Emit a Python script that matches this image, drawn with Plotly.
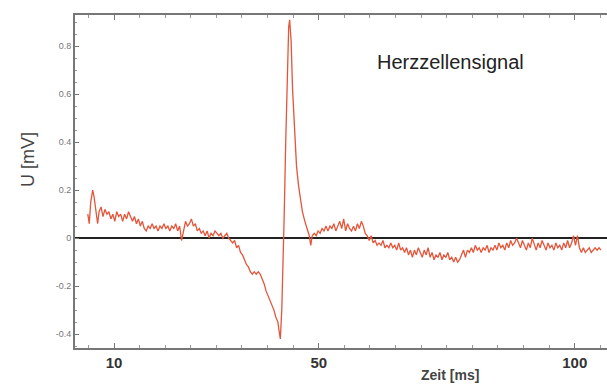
import plotly.graph_objects as go

# Time (ms) and voltage (mV) samples
time_ms = [
    4.88, 5.17, 5.45, 5.84, 6.12, 6.41, 6.80, 7.08, 7.47, 7.85, 8.24, 8.62, 9.00, 9.39, 9.77, 10.15,
    10.54, 10.92, 11.31, 11.69, 12.07, 12.46, 12.84, 13.22, 13.61, 13.99, 14.38, 14.76, 15.14, 15.53,
    15.91, 16.29, 16.68, 17.06, 17.45, 17.83, 18.21, 18.60, 18.98, 19.36, 19.75, 20.13, 20.52, 20.90,
    21.28, 21.67, 22.05, 22.43, 22.82, 23.20, 23.59, 23.97, 24.35, 24.74, 25.12, 25.50, 25.89, 26.27,
    26.66, 27.04, 27.42, 27.81, 28.19, 28.57, 28.96, 29.34, 29.73, 30.11, 30.49, 30.88, 31.26, 31.64,
    32.03, 32.41, 32.80, 33.18, 33.56, 33.95, 34.33, 34.71, 35.10, 35.48, 35.87, 36.25, 36.63, 37.02,
    37.40, 37.78, 38.17, 38.55, 38.94, 39.32, 39.70, 40.09, 40.47, 40.85, 41.24, 41.62, 42.01, 42.20,
    42.49, 42.77, 42.97, 43.25, 43.54, 43.83, 44.12, 44.31, 44.60, 44.88, 45.27, 45.65, 46.04, 46.42,
    46.80, 47.28, 47.76, 48.15, 48.43, 48.72, 49.11, 49.49, 49.87, 50.26, 50.64, 51.02, 51.41, 51.79,
    52.18, 52.56, 52.94, 53.33, 53.71, 54.09, 54.48, 54.86, 55.25, 55.63, 56.01, 56.40, 56.78, 57.16,
    57.55, 57.93, 58.32, 58.70, 59.08, 59.47, 59.85, 60.23, 60.62, 61.00, 61.39, 61.77, 62.15, 62.54,
    62.92, 63.30, 63.69, 64.07, 64.46, 64.84, 65.22, 65.61, 65.99, 66.37, 66.76, 67.14, 67.53, 67.91,
    68.29, 68.68, 69.06, 69.44, 69.83, 70.21, 70.60, 70.98, 71.36, 71.75, 72.13, 72.51, 72.90, 73.28,
    73.67, 74.05, 74.43, 74.82, 75.20, 75.58, 75.97, 76.35, 76.74, 77.12, 77.50, 77.89, 78.27, 78.65,
    79.04, 79.42, 79.81, 80.19, 80.57, 80.96, 81.34, 81.72, 82.11, 82.49, 82.88, 83.26, 83.64, 84.03,
    84.41, 84.79, 85.18, 85.56, 85.95, 86.33, 86.71, 87.10, 87.48, 87.86, 88.25, 88.63, 89.02, 89.40,
    89.78, 90.17, 90.55, 90.93, 91.32, 91.70, 92.09, 92.47, 92.85, 93.24, 93.62, 94.00, 94.39, 94.77,
    95.16, 95.54, 95.92, 96.31, 96.69, 97.07, 97.46, 97.84, 98.23, 98.61, 98.99, 99.38,
    99.76, 100.14, 100.53, 100.91, 101.30, 101.68, 102.06, 102.45, 102.83, 103.22, 103.60, 103.98,
    104.37, 104.75, 105.13,
]
voltage_mv = [
    0.10, 0.06, 0.15, 0.20, 0.17, 0.12, 0.06, 0.11, 0.13, 0.09, 0.12, 0.10, 0.11, 0.08, 0.10, 0.07,
    0.11, 0.09, 0.10, 0.07, 0.10, 0.08, 0.11, 0.09, 0.07, 0.09, 0.06, 0.08, 0.05, 0.07,
    0.04, 0.03, 0.05, 0.04, 0.06, 0.04, 0.05, 0.03, 0.05, 0.04, 0.06, 0.04, 0.05, 0.03,
    0.05, 0.04, 0.06, 0.03, 0.05, -0.01, 0.04, 0.07, 0.05, 0.06, 0.08, 0.05, 0.06, 0.03,
    0.04, 0.02, 0.03, 0.01, 0.03, 0.00, 0.02, 0.01, 0.03, 0.02, 0.01, 0.02, 0.00, 0.01,
    0.02, 0.00, -0.01, -0.02, -0.01, -0.04, -0.03, -0.06, -0.07, -0.09, -0.11, -0.12, -0.14, -0.15,
    -0.14, -0.15, -0.14, -0.15, -0.17, -0.19, -0.22, -0.24, -0.26, -0.28, -0.30, -0.33, -0.35, -0.38,
    -0.42, -0.30, -0.15, 0.10, 0.40, 0.65, 0.88, 0.91, 0.82, 0.62, 0.42, 0.30, 0.22, 0.16,
    0.11, 0.07, 0.03, 0.01, -0.03, 0.01, 0.02, 0.01, 0.03, 0.02, 0.04, 0.03, 0.05, 0.03,
    0.05, 0.04, 0.06, 0.03, 0.05, 0.07, 0.04, 0.08, 0.03, 0.06, 0.04, 0.03, 0.05, 0.03,
    0.06, 0.04, 0.07, 0.05, 0.02, 0.01, -0.01, 0.01, -0.02, -0.01, -0.03, -0.02, -0.03, -0.01,
    -0.04, -0.03, -0.04, -0.02, -0.04, -0.03, -0.05, -0.02, -0.05, -0.04, -0.06, -0.04, -0.07, -0.05,
    -0.08, -0.05, -0.07, -0.04, -0.06, -0.08, -0.05, -0.07, -0.04, -0.08, -0.06, -0.09, -0.07, -0.08,
    -0.06, -0.09, -0.07, -0.08, -0.06, -0.09, -0.08, -0.10, -0.08, -0.10, -0.09, -0.07, -0.05, -0.08,
    -0.05, -0.06, -0.04, -0.06, -0.03, -0.05, -0.04, -0.06, -0.04, -0.05, -0.03, -0.06, -0.04, -0.05,
    -0.03, -0.05, -0.02, -0.04, -0.03, -0.05, -0.02, -0.04, -0.01, -0.03, -0.02, 0.00, -0.02, -0.04,
    -0.01, -0.03, -0.05, -0.02, -0.04, 0.00, -0.03, -0.05, -0.02, -0.04, -0.01, -0.03, -0.05, -0.02,
    -0.04, -0.03, -0.05, -0.02, -0.04, -0.03, -0.05, -0.02, -0.04, -0.01, -0.04, -0.02,
    0.01, -0.03, 0.01, -0.04, -0.06, -0.04, -0.06, -0.05, -0.04, -0.06, -0.05, -0.04,
    -0.05, -0.04, -0.05,
]

x_tickvals = [10, 50, 100]
x_ticktext = ["10", "50", "100"]
y_tickvals = [-0.4, -0.2, 0, 0.2, 0.4, 0.6, 0.8]
y_ticktext = ["-0.4", "-0.2", "0", "0.2", "0.4", "0.6", "0.8"]

fig = go.Figure()
fig.add_trace(go.Scatter(
    x=time_ms, y=voltage_mv, mode="lines",
    line=dict(color="#e5553a", width=1.3),
    showlegend=False,
))

fig.update_layout(
    width=607, height=385,
    margin=dict(l=75, r=0, t=15, b=37, autoexpand=False),
    paper_bgcolor="white", plot_bgcolor="white",
    font=dict(family="Liberation Sans, Arial, sans-serif"),
)
fig.update_xaxes(
    range=[2.38, 106.3], automargin=False,
    tickvals=x_tickvals, ticktext=[f"<b>{t}</b>" for t in x_ticktext],
    tickfont=dict(size=15, color="#333"),
    ticks="inside", ticklen=5, tickcolor="#777",
    minor=dict(dtick=5, tick0=0, ticks="inside", ticklen=3, tickcolor="#999"),
    showline=True, linecolor="#777", linewidth=2, mirror="ticks",
    showgrid=False, zeroline=False,
)
fig.update_yaxes(
    range=[-0.458, 0.93], automargin=False,
    tickvals=y_tickvals, ticktext=y_ticktext,
    tickfont=dict(size=9, color="#777"),
    ticks="inside", ticklen=4, tickcolor="#777",
    minor=dict(dtick=0.05, tick0=0, ticks="inside", ticklen=2, tickcolor="#999"),
    showline=True, linecolor="#777", linewidth=2, mirror=False,
    showgrid=False,
    zeroline=True, zerolinecolor="#222", zerolinewidth=1.5,
)
fig.add_annotation(
    text="U [mV]", xref="paper", yref="paper",
    x=-0.088, y=0.565, xanchor="center", yanchor="middle", textangle=-90,
    showarrow=False, font=dict(size=18, color="#444"),
)
fig.add_annotation(
    text="Herzzellensignal", xref="paper", yref="paper",
    x=0.705, y=0.859, xanchor="center", yanchor="middle", showarrow=False,
    font=dict(size=20, color="#222"),
)
fig.add_annotation(
    text="<b>Zeit [ms]</b>", xref="paper", yref="paper",
    x=0.705, y=-0.081, xanchor="center", yanchor="middle", showarrow=False,
    font=dict(size=14, color="#444"),
)
fig.write_html(
    "out.html",
    config={"displayModeBar": False},
    post_script="document.body.style.margin='0';document.body.style.overflow='hidden';",
)
